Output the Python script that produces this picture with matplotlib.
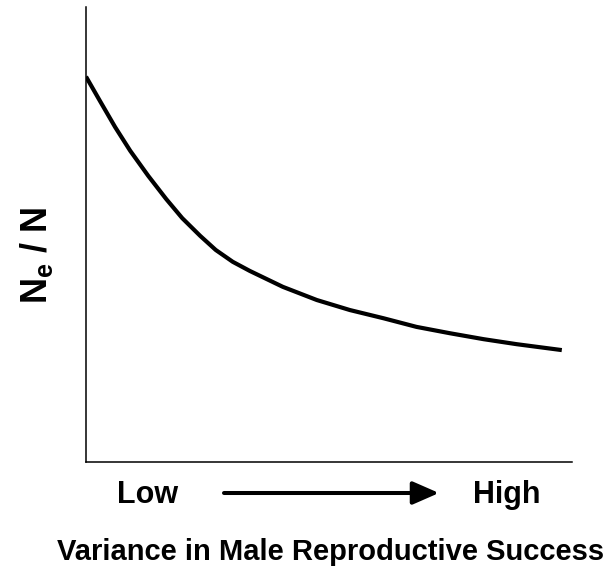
import matplotlib.pyplot as plt

# curve (x: variance, y: Ne/N, arbitrary units 0-1)
variance = [0.000, 0.029, 0.060, 0.091, 0.128, 0.165, 0.198, 0.235, 0.267,
            0.302, 0.337, 0.405, 0.475, 0.543, 0.612, 0.680, 0.749, 0.818,
            0.886, 0.979]
ne_ratio = [0.847, 0.793, 0.736, 0.684, 0.629, 0.578, 0.536, 0.497, 0.466,
            0.440, 0.420, 0.385, 0.356, 0.334, 0.316, 0.297, 0.283, 0.270,
            0.259, 0.246]

plt.rcParams['font.family'] = ['Liberation Sans', 'DejaVu Sans']

fig = plt.figure(figsize=(6.16, 5.69), dpi=100)
ax = fig.add_axes([0.1396, 0.188, 0.789, 0.7997])

ax.plot(variance, ne_ratio, color='black', linewidth=3,
        solid_joinstyle='round', solid_capstyle='butt')

ax.set_xlim(0, 1)
ax.set_ylim(0, 1)
ax.spines['top'].set_visible(False)
ax.spines['right'].set_visible(False)
ax.spines['left'].set_linewidth(1.1)
ax.spines['bottom'].set_linewidth(1.1)
ax.set_xticks([])
ax.set_yticks([])

# y label
fig.text(0.060, 0.552, r'N$_\mathregular{e}$ / N', rotation=90, fontsize=26,
         fontweight='bold', ha='center', va='center')

# low -> high under the axis
fig.text(148 / 616, 1 - 495 / 569, 'Low', fontsize=22, fontweight='bold',
         ha='center', va='center')
fig.text(507 / 616, 1 - 495 / 569, 'High', fontsize=22, fontweight='bold',
         ha='center', va='center')
ax.annotate('', xy=(439 / 616, 1 - 493 / 569), xytext=(224 / 616, 1 - 493 / 569),
            xycoords='figure fraction', textcoords='figure fraction',
            arrowprops=dict(arrowstyle='-|>,head_length=1.6,head_width=0.7',
                            color='black', linewidth=2.9, shrinkA=0, shrinkB=0))

fig.text(331 / 616, 1 - 552 / 569, 'Variance in Male Reproductive Success',
         fontsize=21, fontweight='bold', ha='center', va='center')

fig.savefig('out.png', dpi=100)
